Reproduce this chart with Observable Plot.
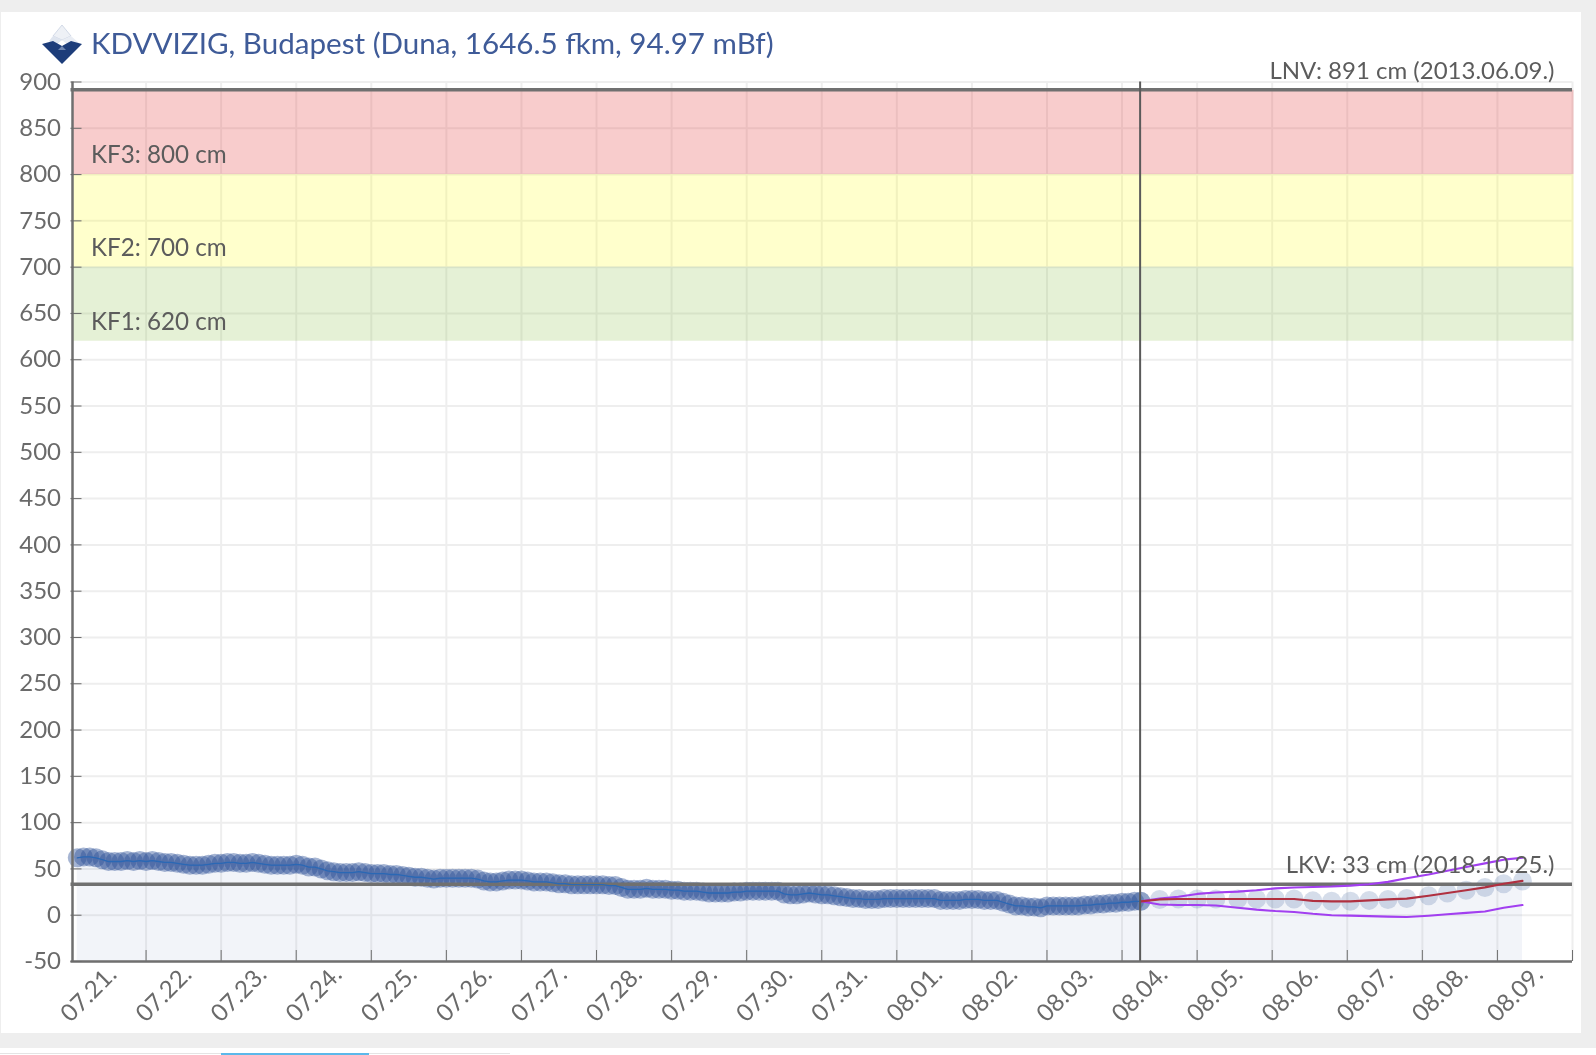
<!DOCTYPE html>
<html><head><meta charset="utf-8">
<script src="https://cdn.jsdelivr.net/npm/d3@7"></script>
<script src="https://cdn.jsdelivr.net/npm/@observablehq/plot@0.6"></script>
<style>
html,body{margin:0;padding:0;background:#fff;overflow:hidden;width:1596px;height:1055px}
#top{position:absolute;left:0;top:0;width:1596px;height:12px;background:#eeeeee}
#right{position:absolute;left:1581px;top:0;width:15px;height:1048px;background:#eeeeee}
#bottom{position:absolute;left:0;top:1033px;width:1596px;height:15px;background:#eeeeee}
#tab1{position:absolute;left:0;top:1053px;width:510px;height:1px;background:#e4e4e4}
#tab2{position:absolute;left:221px;top:1053px;width:148px;height:2px;background:#5bb8ea}
#left{position:absolute;left:0;top:0;width:1px;height:1048px;background:#eeeeee}
#chart{position:absolute;left:0;top:0;filter:blur(.6px)}
#logo{position:absolute;left:41px;top:24px;filter:blur(.4px)}
#title{position:absolute;left:91px;top:24px;font:29.6px/38px Lato,sans-serif;color:#3f5b98;white-space:nowrap;filter:blur(.4px)}
</style></head><body>
<div id="chart"></div>
<div id="top"></div><div id="right"></div><div id="bottom"></div><div id="left"></div><div id="tab1"></div><div id="tab2"></div>
<svg id="logo" width="42" height="42" viewBox="0 0 42 42">
<polygon points="21,1 30,12 21,16 12,12" fill="#eef1f6" stroke="#c9d2e2" stroke-width=".8"/>
<polygon points="12,12 21,16 14,22 8,17" fill="#dfe5ef"/>
<polygon points="30,12 38,19 28,22 21,16" fill="#e9edf4"/>
<polygon points="1,20 12,17 21,22 30,17 41,20 21,40" fill="#1d3d7a"/>
<polygon points="17,26 21,22 25,26" fill="#6f86b0"/>
</svg>
<div id="title">KDVVIZIG, Budapest (Duna, 1646.5 fkm, 94.97 mBf)</div>
<script>
const dayLabels = ["07.21.","07.22.","07.23.","07.24.","07.25.","07.26.","07.27.","07.28.","07.29.","07.30.","07.31.","08.01.","08.02.","08.03.","08.04.","08.05.","08.06.","08.07.","08.08.","08.09."];
const yTicks = [-50,0,50,100,150,200,250,300,350,400,450,500,550,600,650,700,750,800,850,900];
const dayTicks = [1,2,3,4,5,6,7,8,9,10,11,12,13,14,15,16,17,18,19,20];
const labelTicks = [0.5,1.5,2.5,3.5,4.5,5.5,6.5,7.5,8.5,9.5,10.5,11.5,12.5,13.5,14.5,15.5,16.5,17.5,18.5,19.5];

// observed water level (cm), one reading every two hours from 07.21. 02:00
const observed = [
 62,63,63,62,60,58,58,58,59,58,59,
 58,59,58,57,57,56,55,54,54,54,55,56,
 56,57,57,56,56,57,56,55,54,54,54,54,
 55,54,52,52,50,48,47,46,46,46,47,46,
 45,45,45,44,44,43,42,41,41,40,39,40,
 40,40,40,40,40,39,37,36,36,37,38,38,
 38,37,36,36,36,35,34,34,33,33,33,33,
 33,33,32,32,30,28,28,28,29,28,28,28,
 27,27,26,26,26,25,24,24,24,24,25,25,
 26,26,26,26,26,26,23,22,22,23,24,23,
 22,22,21,20,19,18,18,17,17,17,18,18,
 18,18,18,18,18,18,18,16,16,16,16,17,
 17,17,16,16,16,14,12,10,10,9,9,8,
 10,10,10,10,10,10,11,11,12,12,13,13,
 14,14,15,15];
const firstHour = 2, stepHours = 2;

const forecastHours = [342,348,354,360,366,373,379,385,391,397,403,409,415,421,427,434,440,446,452,458,464];
const forecast      = [15,17,17.5,17.5,17.5,17.5,17.5,17.5,17.5,15.5,15,15,16,17,18,21,24,27,30,34,37];
const forecastHigh  = [15,18,20,23,24.5,25.5,27,29,30,30.5,31,32,33.5,36,40,44,48,52,56,60,62];
const forecastLow   = [15,11.5,11,11,10.5,8,6,4.5,3.5,1.5,0,-0.5,-1,-1.5,-2,-0.5,1,2.5,4,8,11];

const zones = [
 {from:800,to:891,fill:"rgba(226,52,52,0.25)",label:"KF3: 800 cm"},
 {from:700,to:800,fill:"rgba(255,255,0,0.2)",label:"KF2: 700 cm"},
 {from:620,to:700,fill:"rgba(125,185,50,0.2)",label:"KF1: 620 cm"}];
const extremes = [
 {y:891,label:"LNV: 891 cm (2013.06.09.)"},
 {y:33,label:"LKV: 33 cm (2018.10.25.)"}];
const nowDay = 14.25;

const past = observed.map((v,i)=>({d:(firstHour+i*stepHours)/24,v}));
const fc = forecastHours.map((h,i)=>({d:h/24,v:forecast[i],hi:forecastHigh[i],lo:forecastLow[i]}));
const all = past.concat(fc.slice(1));
const font = "Lato, sans-serif", ink = "#6a6a6a";

const chart = Plot.plot({
 width:1596,height:1055,
 marginLeft:70.5,marginRight:24,marginTop:81.5,marginBottom:94,
 style:{fontFamily:font,background:"transparent"},
 x:{type:"linear",domain:[0,20]},
 y:{type:"linear",domain:[-50,900]},
 marks:[
  Plot.gridX(dayTicks,{stroke:"#eeeeee",strokeOpacity:1,strokeWidth:2}),
  Plot.gridY(yTicks,{stroke:"#eeeeee",strokeOpacity:1,strokeWidth:2}),
  Plot.rectY(zones,{x1:0,x2:20,y1:"from",y2:"to",fill:"fill",dx:1.5}),
  Plot.areaY(all,{x:"d",y1:-50,y2:"v",fill:"#3a5aa5",fillOpacity:0.065}),
  Plot.dot(past,{x:"d",y:"v",r:9.5,fill:"#2a4f95",fillOpacity:0.42,stroke:"none"}),
  Plot.dot(fc,{x:"d",y:"v",r:9.5,fill:"#2f5597",fillOpacity:0.2,stroke:"none"}),
  Plot.ruleY(extremes,{y:"y",stroke:"#707070",strokeWidth:3.5,dy:-0.5}),
  Plot.line(past,{x:"d",y:"v",stroke:"#2a68b5",strokeWidth:1.3}),
  Plot.line(fc,{x:"d",y:"hi",stroke:"#a23ff0",strokeWidth:2.1}),
  Plot.line(fc,{x:"d",y:"lo",stroke:"#a23ff0",strokeWidth:2.1}),
  Plot.line(fc,{x:"d",y:"v",stroke:"#b03040",strokeWidth:2.2}),
  Plot.ruleX([nowDay],{stroke:"#5a5a5a",strokeWidth:2,dx:-0.7}),
  Plot.ruleX([0],{stroke:"#6f6f6f",strokeWidth:2.5,dx:1.5}),
  Plot.ruleY([-50],{stroke:"#6f6f6f",strokeWidth:2.5}),
  Plot.axisY({ticks:yTicks,anchor:"left",tickSize:-11,tickPadding:21,fontSize:24,color:ink,label:null,tickFormat:d=>String(d)}),
  Plot.axisX({ticks:dayTicks,anchor:"bottom",tickSize:-11,tickFormat:()=>"",color:"#6f6f6f",label:null}),
  Plot.axisX({ticks:labelTicks,anchor:"bottom",tickSize:0,tickPadding:9,tickRotate:-45,fontSize:24,color:ink,label:null,dx:4,
    tickFormat:d=>dayLabels[Math.floor(d)]}),
  Plot.text(zones,{y:"from",text:"label",frameAnchor:"left",textAnchor:"start",dx:20,dy:-19,fontSize:24.2,fill:"#5c5c5c"}),
  Plot.text(extremes,{y:"y",text:"label",frameAnchor:"right",textAnchor:"end",dx:-18,dy:-19,fontSize:24,fill:"#5c5c5c"})
 ]
});
document.getElementById("chart").appendChild(chart);
</script>
</body></html>
